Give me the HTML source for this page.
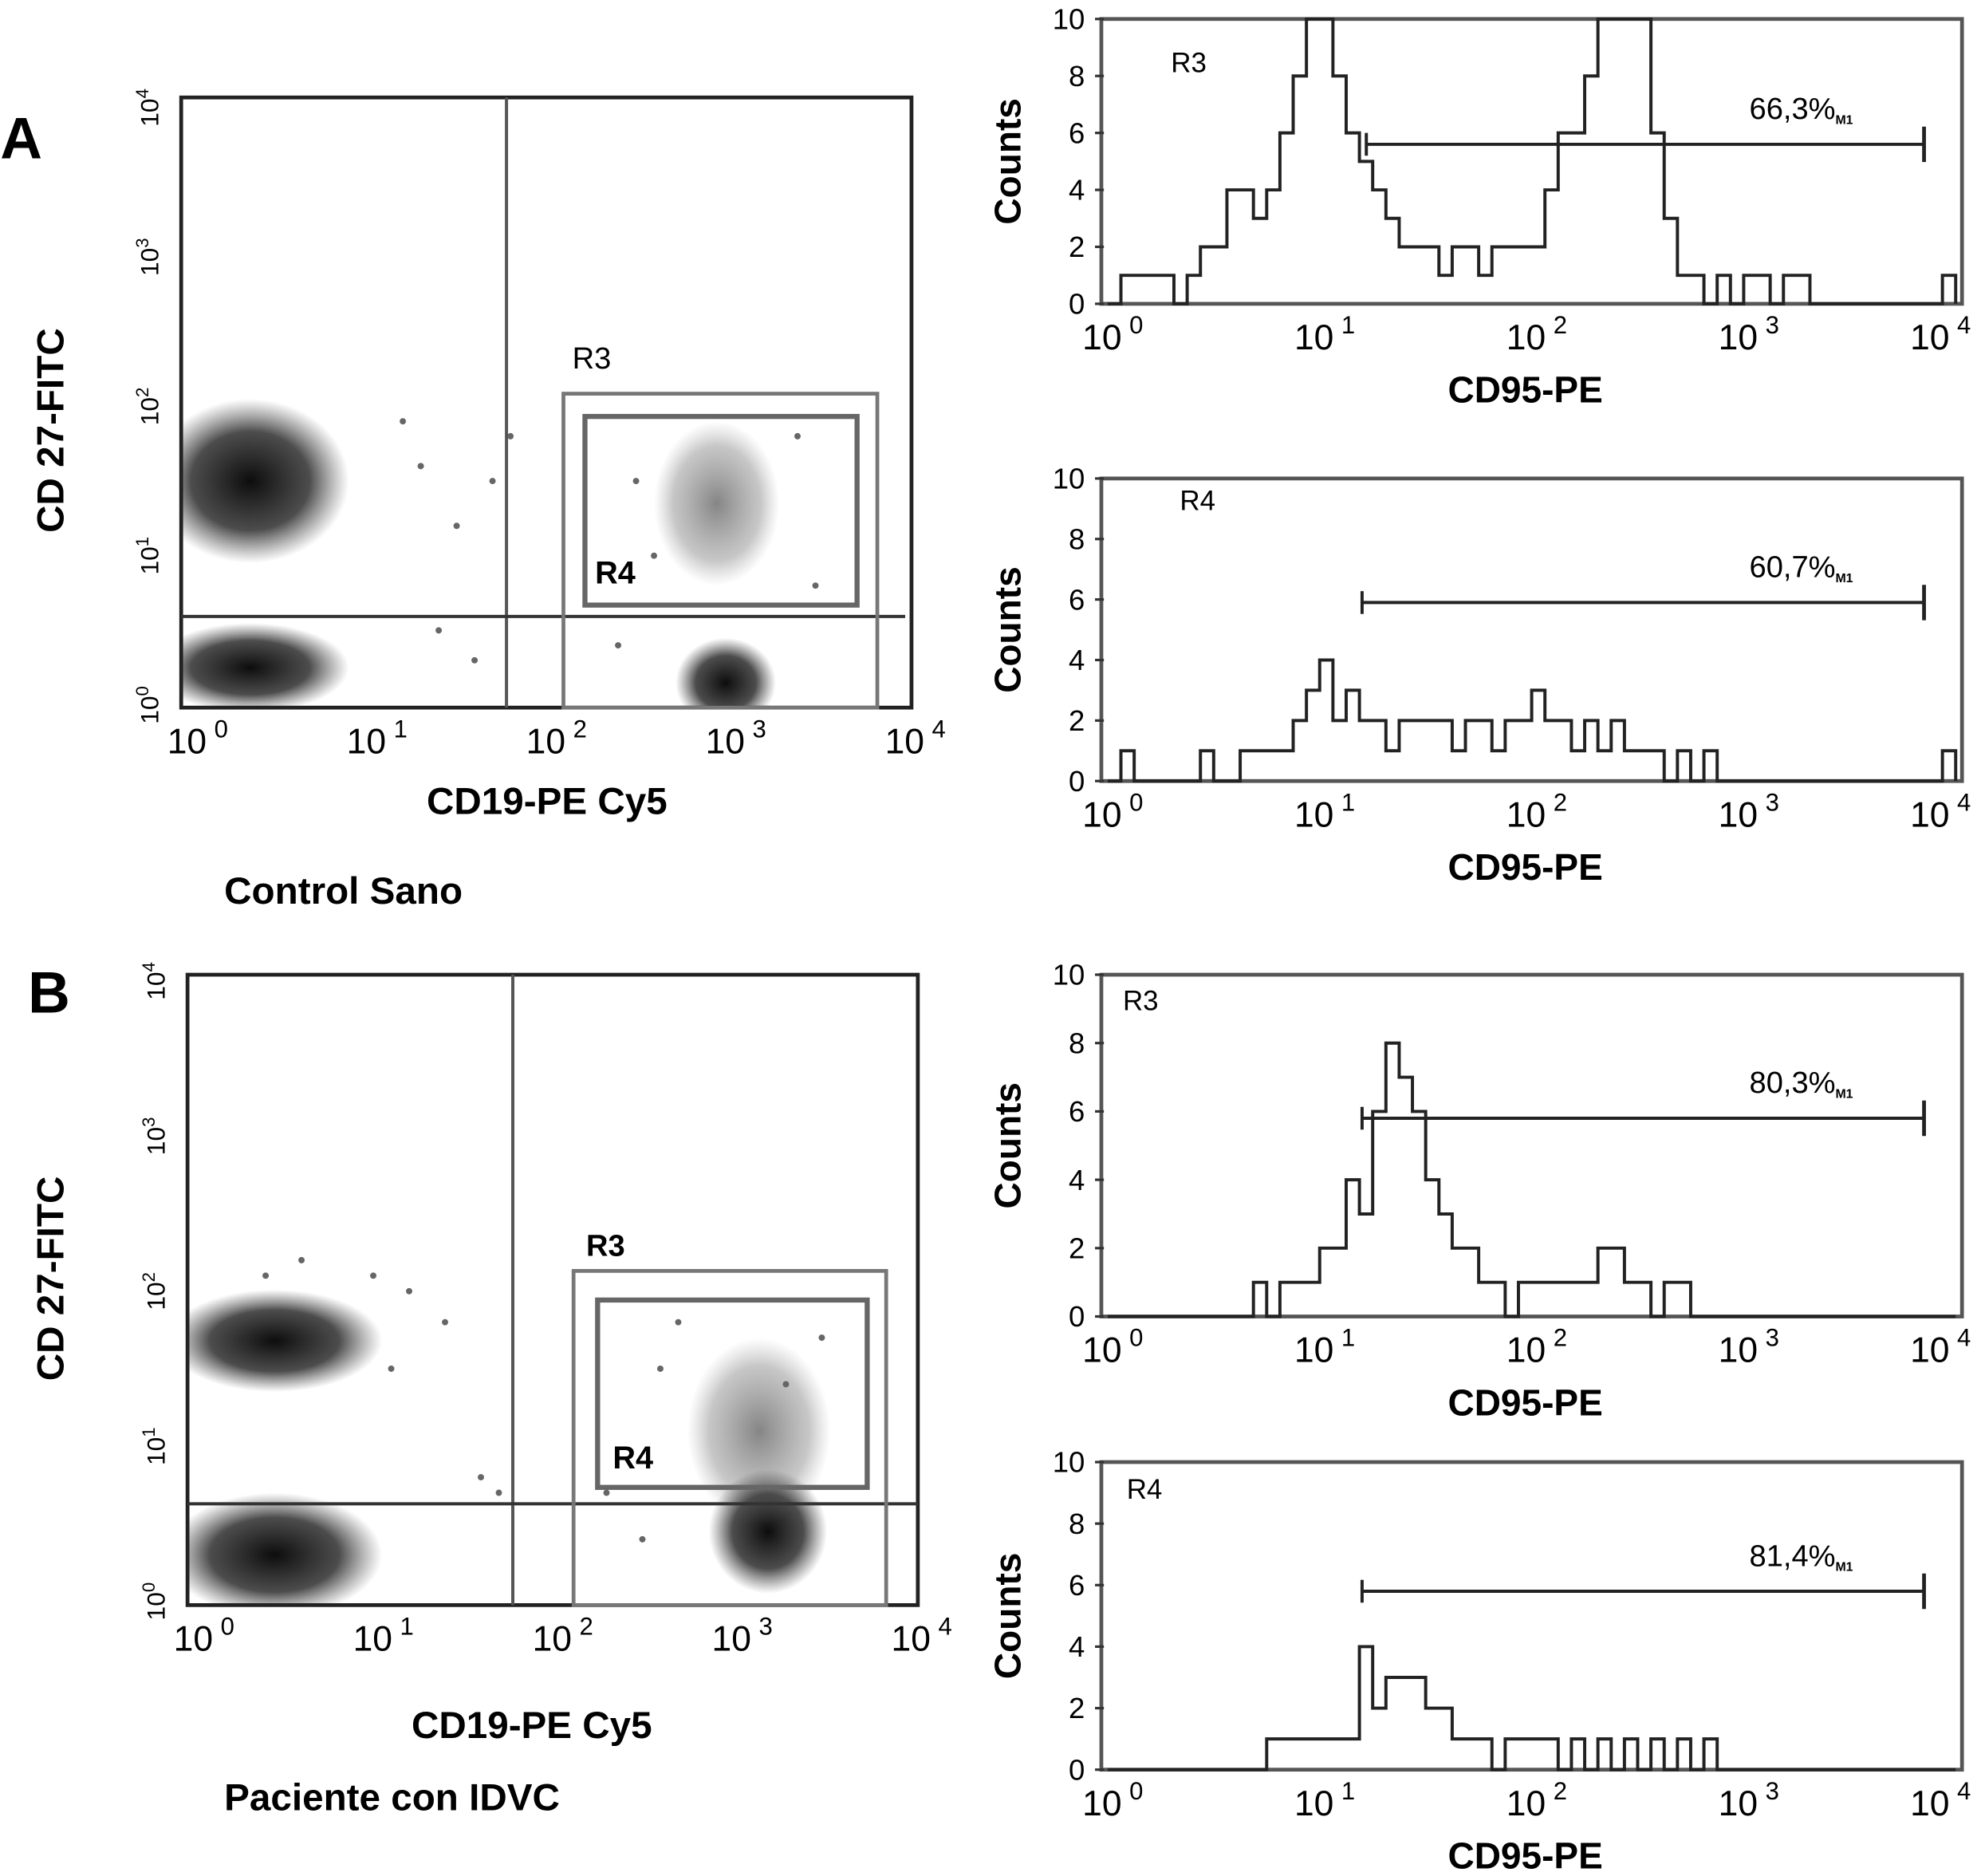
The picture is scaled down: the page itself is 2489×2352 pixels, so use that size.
<!DOCTYPE html>
<html><head><meta charset="utf-8"><style>
html,body{margin:0;padding:0;background:#fff}
svg{display:block}
text{font-family:"Liberation Sans",sans-serif}
</style></head><body>
<svg id="fig" width="2489" height="2352" viewBox="0 0 1568 1482" xmlns="http://www.w3.org/2000/svg">
<defs>
<radialGradient id="blob"><stop offset="0" stop-color="#000" stop-opacity="0.95"/><stop offset="0.6" stop-color="#111" stop-opacity="0.75"/><stop offset="1" stop-color="#333" stop-opacity="0"/></radialGradient>
<radialGradient id="blobL"><stop offset="0" stop-color="#222" stop-opacity="0.55"/><stop offset="0.7" stop-color="#444" stop-opacity="0.3"/><stop offset="1" stop-color="#666" stop-opacity="0"/></radialGradient>
</defs>
<text x="0" y="125" font-size="46" font-weight="bold">A</text>
<text x="22" y="800" font-size="46" font-weight="bold">B</text>
<text x="177" y="714" font-size="30" font-weight="bold">Control Sano</text>
<text x="177" y="1430" font-size="30" font-weight="bold">Paciente con IDVC</text>
<g id="plots"></g>
</svg>
<script>
// ---------- data ----------
// Scatter clusters: [log10 x, log10 y, spread x (decades), spread y (decades), gradient]
const scatterA_clusters=[[0.35,1.5,0.55,0.55,'blob'],[0.35,0.25,0.55,0.3,'blob'],[3.0,0.15,0.28,0.3,'blob'],[2.95,1.35,0.35,0.55,'blobL']];
const scatterB_clusters=[[0.45,1.68,0.6,0.33,'blob'],[0.45,0.3,0.6,0.4,'blob'],[3.2,0.45,0.33,0.4,'blob'],[3.15,1.1,0.4,0.6,'blobL']];
const scatterA_sparse=[[1.3,1.6],[1.5,1.2],[1.4,0.5],[1.8,1.8],[1.2,1.9],[1.6,0.3],[2.5,1.5],[2.6,1.0],[3.4,1.8],[3.5,0.8],[2.4,0.4],[1.7,1.5]];
const scatterB_sparse=[[1.2,2.0],[1.0,2.1],[1.4,1.8],[1.1,1.5],[1.6,0.8],[1.7,0.7],[2.6,1.5],[2.7,1.8],[3.3,1.4],[3.5,1.7],[2.5,0.4],[2.3,0.7],[0.4,2.1],[0.6,2.2]];
// Histogram counts, 16 bins per decade from 10^0 to 10^4
const histA3=[0,1,1,1,1,0,1,2,2,4,4,3,4,6,8,10, 10,8,6,5,4,3,2,2,2,1,2,2,1,2,2,2, 2,4,6,6,8,10,10,10,10,6,3,1,1,0,1,0, 1,1,0,1,1,0,0,0,0,0,0,0,0,0,0,1];
const histA4=[0,1,0,0,0,0,0,1,0,0,1,1,1,1,2,3, 4,2,3,2,2,1,2,2,2,2,1,2,2,1,2,2, 3,2,2,1,2,1,2,1,1,1,0,1,0,1,0,0, 0,0,0,0,0,0,0,0,0,0,0,0,0,0,0,1];
const histB3=[0,0,0,0,0,0,0,0,0,0,0,1,0,1,1,1, 2,2,4,3,6,8,7,6,4,3,2,2,1,1,0,1, 1,1,1,1,1,2,2,1,1,0,1,1,0,0,0,0, 0,0,0,0,0,0,0,0,0,0,0,0,0,0,0,0];
const histB4=[0,0,0,0,0,0,0,0,0,0,0,0,1,1,1,1, 1,1,1,4,2,3,3,3,2,2,1,1,1,0,1,1, 1,1,0,1,0,1,0,1,0,1,0,1,0,1,0,0, 0,0,0,0,0,0,0,0,0,0,0,0,0,0,0,0];
const yTicks=[0,2,4,6,8,10];
const pctLabels=['66,3%','60,7%','80,3%','81,4%'];
const gateLog=[1.22,1.2,1.2,1.2];
const gateCount=[5.6,5.9,5.8,5.8];

const NS='http://www.w3.org/2000/svg';
const root=document.getElementById('plots');
function el(tag,attrs,parent,txt){const e=document.createElementNS(NS,tag);for(const k in attrs)e.setAttribute(k,attrs[k]);if(txt!==undefined)e.textContent=txt;(parent||root).appendChild(e);return e;}
function decLabel(g,x,y,p,fs){const t=el('text',{x:x,y:y,'font-size':fs,'text-anchor':'middle'},g);
 
 el('tspan',{},t,'10');el('tspan',{dy:-fs*0.45,'font-size':fs*0.7,dx:6},t,String(p));}

function scatter(cfg){
 const g=el('g',{});
 
 
 const sx=v=>cfg.x0+v*(cfg.x1-cfg.x0)/4, sy=v=>cfg.y0-v*(cfg.y0-cfg.y1)/4;
 const clip='c'+cfg.name;
 const cp=el('clipPath',{id:clip},g);el('rect',{x:cfg.bx0,y:cfg.by0,width:cfg.bx1-cfg.bx0,height:cfg.by1-cfg.by0},cp);
 const cg=el('g',{'clip-path':'url(#'+clip+')'},g);
 cfg.clusters.forEach(c=>{const e=el('ellipse',{cx:sx(c[0]),cy:sy(c[1]),rx:c[2]*(cfg.x1-cfg.x0)/4,ry:c[3]*(cfg.y0-cfg.y1)/4,fill:'url(#'+c[4]+')'},cg);
  });
 cfg.sparse.forEach(p=>{const c=el('circle',{cx:sx(p[0]),cy:sy(p[1]),r:2.5,fill:'#666'},cg);
  });
 const fr=el('rect',{x:cfg.bx0,y:cfg.by0,width:cfg.bx1-cfg.bx0,height:cfg.by1-cfg.by0,fill:'none',stroke:'#222','stroke-width':3},g);
 
 el('line',{x1:cfg.vx,y1:cfg.by0,x2:cfg.vx,y2:cfg.by1,stroke:'#555','stroke-width':2.5},g);
 el('line',{x1:cfg.bx0,y1:cfg.hy,x2:cfg.hx1,y2:cfg.hy,stroke:'#333','stroke-width':2.5},g);
 const r3=el('rect',{x:cfg.r3[0],y:cfg.r3[1],width:cfg.r3[2]-cfg.r3[0],height:cfg.r3[3]-cfg.r3[1],fill:'none',stroke:'#777','stroke-width':3},g);
 
 const r4=el('rect',{x:cfg.r4[0],y:cfg.r4[1],width:cfg.r4[2]-cfg.r4[0],height:cfg.r4[3]-cfg.r4[1],fill:'none',stroke:'#666','stroke-width':4},g);
 
 el('text',{x:cfg.r3l[0],y:cfg.r3l[1],'font-size':24,'font-weight':cfg.bold?'bold':'normal'},g,'R3');
 el('text',{x:cfg.r4l[0],y:cfg.r4l[1],'font-size':25,'font-weight':'bold'},g,'R4');
 for(let p=0;p<=4;p++){decLabel(g,sx(p)+8,cfg.by1+36,p,28);
  const t=el('text',{transform:`translate(${cfg.bx0-18},${sy(p)}) rotate(-90)`,'font-size':20,'text-anchor':'middle'},g);
  
  el('tspan',{},t,'10');el('tspan',{dy:-8,'font-size':14},t,String(p));}
 el('text',{x:cfg.xl[0],y:cfg.xl[1],'font-size':30,'font-weight':'bold','text-anchor':'middle'},g,'CD19-PE Cy5');
 el('text',{transform:`translate(50,${cfg.yl}) rotate(-90)`,'font-size':30,'font-weight':'bold','text-anchor':'middle'},g,'CD 27-FITC');
}
scatter({name:'scatter-control',x0:148,x1:715,y0:557,y1:85,bx0:143,bx1:720,by0:77,by1:559,vx:400,hy:487,hx1:715,
 r3:[445,311,693,559],r4:[462,329,677,478],r3l:[452,291],r4l:[470,461],bold:false,xl:[432,643],yl:340,
 clusters:scatterA_clusters,sparse:scatterA_sparse});
scatter({name:'scatter-patient',x0:153,x1:720,y0:1265,y1:775,bx0:148,bx1:725,by0:770,by1:1268,vx:405,hy:1188,hx1:725,
 r3:[453,1004,700,1268],r4:[472,1027,685,1175],r3l:[463,992],r4l:[484,1160],bold:true,xl:[420,1373],yl:1010,
 clusters:scatterB_clusters,sparse:scatterB_sparse});

function hist(cfg,i){
 const g=el('g',{});
 
 
 const sx=v=>cfg.x0+v*(cfg.x1-cfg.x0)/4, sy=v=>cfg.y0-v*(cfg.y0-cfg.y1)/10;
 const fr=el('rect',{x:cfg.x0-5,y:cfg.y1,width:cfg.x1-cfg.x0+10,height:cfg.y0-cfg.y1,fill:'none',stroke:'#555','stroke-width':3},g);
 
 let d='M'+sx(0)+','+sy(0);
 cfg.data.forEach((v,k)=>{d+=' L'+sx(k/16)+','+sy(v)+' L'+sx((k+1)/16)+','+sy(v);});
 d+=' L'+sx(4)+','+sy(0);
 const p=el('path',{d:d,fill:'none',stroke:'#222','stroke-width':2.5},g);
 
 yTicks.forEach(v=>{const t=el('text',{x:cfg.x0-18,y:sy(v)+8,'font-size':23,'text-anchor':'end'},g,String(v));
  
  el('line',{x1:cfg.x0-10,y1:sy(v),x2:cfg.x0-3,y2:sy(v),stroke:'#333','stroke-width':2},g);});
 for(let q=0;q<=4;q++)decLabel(g,sx(q)+(q===4?-12:4),cfg.y0+36,q,28);
 el('text',{x:(cfg.x0+cfg.x1)/2-5,y:cfg.y0+78,'font-size':29,'font-weight':'bold','text-anchor':'middle'},g,'CD95-PE');
 el('text',{transform:`translate(806,${(cfg.y0+cfg.y1)/2}) rotate(-90)`,'font-size':29,'font-weight':'bold','text-anchor':'middle'},g,'Counts');
 el('text',{x:cfg.rl[0],y:cfg.rl[1],'font-size':22},g,cfg.region);
 const gy=sy(gateCount[i]), gx0=sx(gateLog[i]), gx1=cfg.x1-25;
 const m=el('g',{},g);
 el('line',{x1:gx0,y1:gy,x2:gx1,y2:gy,stroke:'#222','stroke-width':2.5},m);
 el('line',{x1:gx0,y1:gy-9,x2:gx0,y2:gy+9,stroke:'#222','stroke-width':2.5},m);
 el('line',{x1:gx1,y1:gy-14,x2:gx1,y2:gy+14,stroke:'#222','stroke-width':3},m);
 el('text',{x:gx1-138,y:gy-20,'font-size':24},g,pctLabels[i]);
 el('text',{x:gx1-70,y:gy-16,'font-size':10,'font-weight':'bold'},g,'M1');
}
hist({name:'hist-control-r3',x0:875,x1:1545,y0:240,y1:15,data:histA3,region:'R3',rl:[925,57]},0);
hist({name:'hist-control-r4',x0:875,x1:1545,y0:617,y1:378,data:histA4,region:'R4',rl:[932,403]},1);
hist({name:'hist-patient-r3',x0:875,x1:1545,y0:1040,y1:770,data:histB3,region:'R3',rl:[887,798]},2);
hist({name:'hist-patient-r4',x0:875,x1:1545,y0:1398,y1:1155,data:histB4,region:'R4',rl:[890,1184]},3);
</script>
</body></html>
